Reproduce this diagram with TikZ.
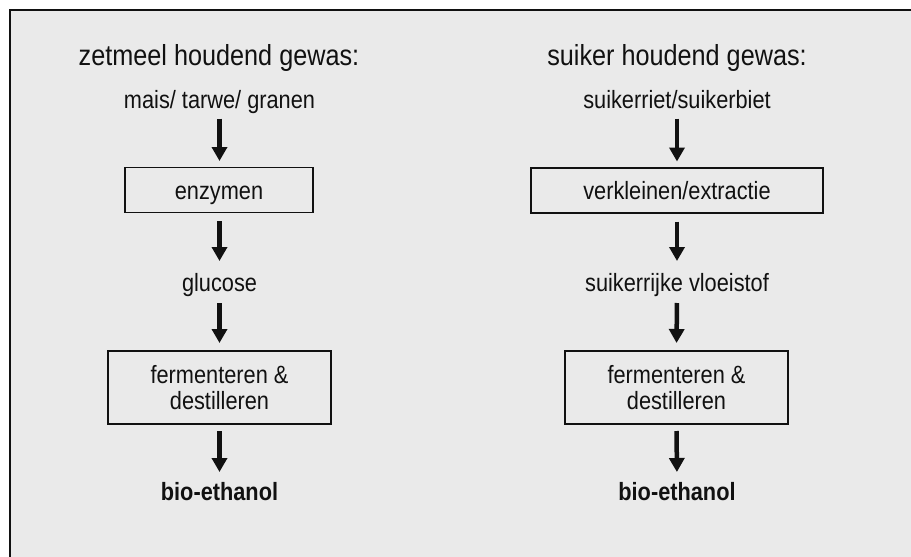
\documentclass[tikz,border=0pt]{standalone}
\usepackage{fontspec}
\setmainfont{Liberation Sans}[FakeStretch=0.87]
\usetikzlibrary{arrows.meta}
\definecolor{bg}{HTML}{EAEAEA}
\definecolor{ink}{HTML}{111111}
\begin{document}
\begin{tikzpicture}[x=1pt,y=-1pt,
  heading/.style={anchor=base, inner sep=0pt, font=\fontsize{29}{34}\selectfont, text=ink},
  txt/.style={anchor=base, inner sep=0pt, outer sep=0pt, text height=18pt, text depth=5pt, font=\fontsize{25}{26}\selectfont, text=ink},
  stepbox/.style={draw=ink, line width=1.5pt, rectangle, inner sep=0pt, outer sep=0pt, align=center, font=\fontsize{25}{26}\selectfont, text=ink},
  onebox/.style={stepbox, minimum height=45pt, text height=20pt, text depth=1.4pt},
  twobox/.style={stepbox, minimum width=223pt, minimum height=73pt, text height=45pt, text depth=2pt},
  flow/.style={-{Triangle[width=15pt,length=14pt]}, line width=4.5pt, draw=ink}
]
\useasboundingbox (0,0) rectangle (911,557);
\fill[bg] (9.5,9.5) rectangle (911,557);
\draw[line width=2pt, ink] (9.5,557) -- (9.5,9.5) -- (911,9.5);

% left column
\node[heading] (lt) at (219,65.5) {zetmeel houdend gewas:};
\node[txt] (l1) at (219.5,108) {mais/ tarwe/ granen};
\node[onebox, minimum width=188pt] (l2) at (219,190) {enzymen};
\node[txt] (l3) at (219.5,291) {glucose};
\node[twobox] (l4) at (219.5,387.5) {fermenteren \&\\destilleren};
\node[txt, font=\fontsize{25}{26}\selectfont\bfseries] (l5) at (219.5,500) {bio-ethanol};

% right column
\node[heading] (rt) at (677,65.5) {suiker houdend gewas:};
\node[txt] (r1) at (677,108) {suikerriet/suikerbiet};
\node[onebox, minimum width=292pt] (r2) at (677,190.5) {verkleinen/extractie};
\node[txt] (r3) at (677,291) {suikerrijke vloeistof};
\node[twobox] (r4) at (676.5,387.5) {fermenteren \&\\destilleren};
\node[txt, font=\fontsize{25}{26}\selectfont\bfseries] (r5) at (677,500) {bio-ethanol};

% arrows
\draw[flow, shorten <=5.5pt, shorten >=6.5pt] (l1.south) -- (l1.south |- l2.north);
\draw[flow, shorten <=8.5pt, shorten >=12pt] (l1.south |- l2.south) -- (l3.north);
\draw[flow, shorten <=7pt, shorten >=8pt] (l3.south) -- (l4.north);
\draw[flow, shorten <=7pt, shorten >=10pt] (l4.south) -- (l5.north);

\draw[flow, shorten <=5.5pt, shorten >=6.5pt] (r1.south) -- (r2.north);
\draw[flow, shorten <=8.5pt, shorten >=12pt] (r2.south) -- (r3.north);
\draw[flow, shorten <=7pt, shorten >=8pt] (r3.south) -- (r4.north);
\draw[flow, shorten <=7pt, shorten >=10pt] (r4.south) -- (r5.north);
\end{tikzpicture}
\end{document}
